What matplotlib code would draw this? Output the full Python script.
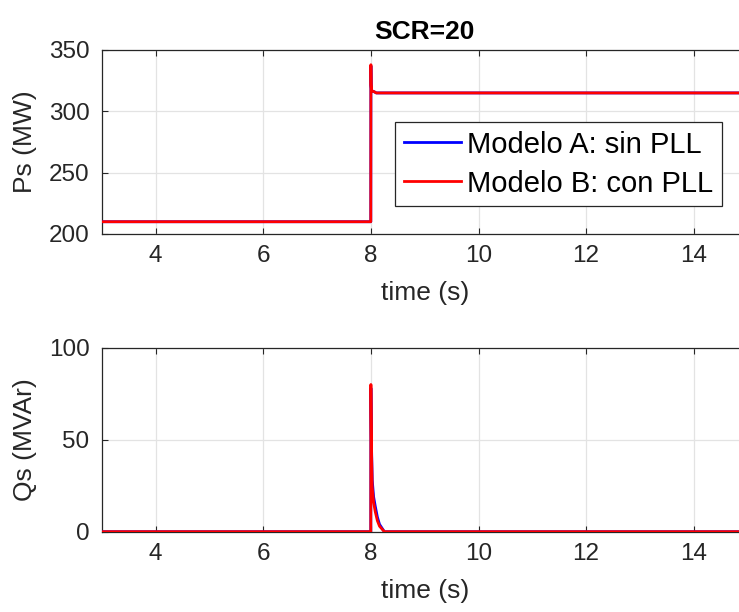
import numpy as np
import matplotlib
matplotlib.use("Agg")
import matplotlib.pyplot as plt

plt.rcParams['font.family'] = ['Liberation Sans', 'DejaVu Sans']

# Time breakpoints (s) and active power Ps (MW) for both models
ps_time = [3.0, 7.998, 8.0, 8.004, 8.012, 8.03, 8.06, 8.1, 15.0]
ps_model_a = [210, 210, 337, 321, 317, 316.5, 316, 315, 315]
ps_model_b = [210, 210, 338, 322, 317, 316.5, 316, 315, 315]

# Time breakpoints (s) and reactive power Qs (MVAr) for both models
qs_time = [3.0, 7.998, 8.0, 8.01, 8.025, 8.05, 8.08, 8.12, 8.16, 8.25, 15.0]
qs_model_a = [0, 0, 78, 48, 28, 19, 14, 8, 4, 0, 0]
qs_model_b = [0, 0, 80, 46, 24, 16, 11, 6, 3, 0, 0]

series_labels = ["Modelo A: sin PLL", "Modelo B: con PLL"]
series_colors = ["#0000ff", "#ff0000"]

x_ticks = [4, 6, 8, 10, 12, 14]
ps_ticks = [200, 250, 300, 350]
qs_ticks = [0, 50, 100]

W, H = 739, 612
fig = plt.figure(figsize=(W / 100, H / 100), dpi=100)

ax_left = 101.9 / W
ax_width = 645.6 / W
ax_height = 184 / H
ax1 = fig.add_axes([ax_left, (H - 234) / H, ax_width, ax_height])
ax2 = fig.add_axes([ax_left, (H - 531.7) / H, ax_width, ax_height])

dark = "#262626"
tick_fs = 17.5
label_fs = 19

for ax, ta, tb, ya, yb, yt, ylab, ylim in [
    (ax1, ps_time, ps_time, ps_model_a, ps_model_b, ps_ticks, "Ps (MW)", (200, 350)),
    (ax2, qs_time, qs_time, qs_model_a, qs_model_b, qs_ticks, "Qs (MVAr)", (0, 100)),
]:
    ax.plot(ta, ya, color=series_colors[0], lw=2.0, label=series_labels[0], zorder=3)
    ax.plot(tb, yb, color=series_colors[1], lw=2.0, label=series_labels[1], zorder=4)
    ax.set_xlim(3, 15)
    ax.set_ylim(*ylim)
    ax.set_xticks(x_ticks)
    ax.set_yticks(yt)
    ax.grid(True, color="#e3e3e3", lw=0.9, zorder=0)
    ax.set_axisbelow(True)
    ax.tick_params(direction="in", length=4, width=0.8, colors=dark,
                   labelsize=tick_fs, top=True, right=True)
    ax.tick_params(axis="x", pad=8)
    ax.tick_params(axis="y", pad=9)
    for sp in ax.spines.values():
        sp.set_color(dark)
        sp.set_linewidth(0.9)
    ax.set_xlabel("time (s)", fontsize=label_fs, color=dark)
    ax.set_ylabel(ylab, fontsize=label_fs, color=dark)
    ax.xaxis.set_label_coords(0.5, -0.255)
    ax.yaxis.set_label_coords(-0.1, 0.5)

ax1.set_title("SCR=20", fontsize=19, fontweight="bold", pad=8)

leg = ax1.legend(loc="upper right", bbox_to_anchor=(0.960, 0.610),
                 borderaxespad=0, fontsize=21, frameon=True, fancybox=False,
                 handlelength=1.95, handletextpad=0.2, borderpad=0.3,
                 labelspacing=0.38)
leg.get_frame().set_edgecolor(dark)
leg.get_frame().set_linewidth(0.9)
leg.get_frame().set_alpha(1)
for line in leg.get_lines():
    line.set_linewidth(2.0)

fig.savefig("out.png", dpi=100)
